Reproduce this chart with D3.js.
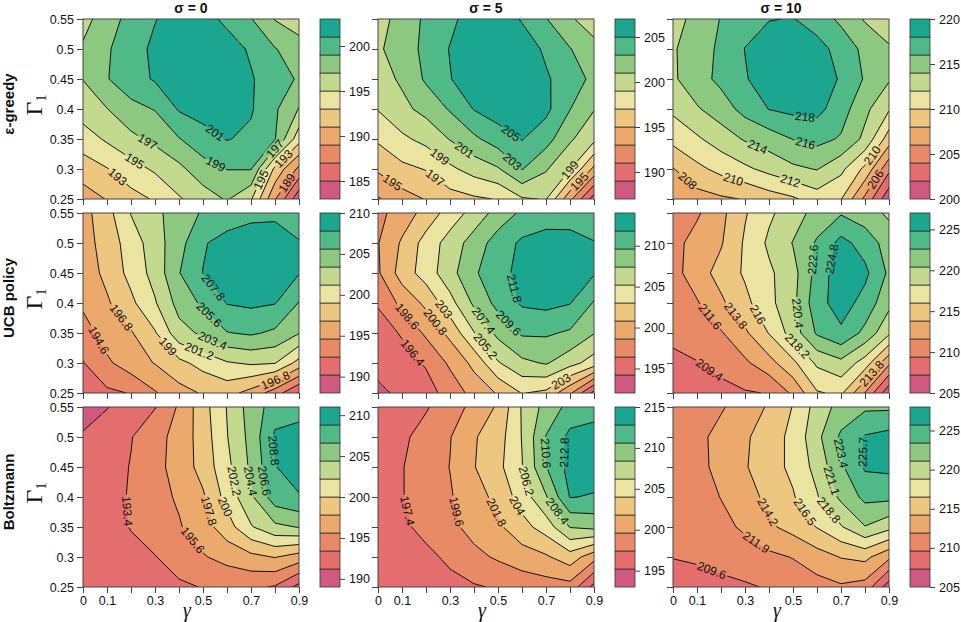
<!DOCTYPE html>
<html>
<head>
<meta charset="utf-8">
<script src="https://cdn.jsdelivr.net/npm/d3@7/dist/d3.min.js"></script>
<style>
  body { margin: 0; background: #fff; }
  text { font-family: "Liberation Sans", Arial, sans-serif; fill: #111; }
</style>
</head>
<body>
<svg width="961" height="622"></svg>
<script>
// grid of the runs: discount factor across, first learning rate down
var gammas = [0, 0.1, 0.2, 0.3, 0.4, 0.5, 0.6, 0.7, 0.8, 0.9];
var gammaLabels = [0, 0.1, 0.3, 0.5, 0.7, 0.9];
var gamma1s = [0.55, 0.5, 0.45, 0.4, 0.35, 0.3, 0.25];   // grid rows, top row first
var gamma1Ticks = [0.25, 0.3, 0.35, 0.4, 0.45, 0.5, 0.55];

var policies = ["ε-greedy", "UCB policy", "Boltzmann"];
var sigmas = ["σ = 0", "σ = 5", "σ = 10"];

// band colours, lowest band first
var palette = ["#d05a7f", "#e46d6e", "#e98a67", "#ebaa6b", "#edc77f",
               "#ebe3a0", "#c3da8e", "#8cc87f", "#4fba88", "#1ba78f"];

// contour levels of each panel
var levelsEps0 = [183, 185, 187, 189, 191, 193, 195, 197, 199, 201, 203];
var levelsEps5 = [187, 189, 191, 193, 195, 197, 199, 201, 203, 205, 207];
var levelsEps10 = [200, 202, 204, 206, 208, 210, 212, 214, 216, 218, 220];
var levelsUcb0 = [188, 190.2, 192.4, 194.6, 196.8, 199, 201.2, 203.4, 205.6, 207.8, 210];
var levelsUcb5 = [192, 194.2, 196.4, 198.6, 200.8, 203, 205.2, 207.4, 209.6, 211.8, 214];
var levelsUcb10 = [205, 207.2, 209.4, 211.6, 213.8, 216, 218.2, 220.4, 222.6, 224.8, 227];
var levelsBoltz0 = [189, 191.2, 193.4, 195.6, 197.8, 200, 202.2, 204.4, 206.6, 208.8, 211];
var levelsBoltz5 = [193, 195.2, 197.4, 199.6, 201.8, 204, 206.2, 208.4, 210.6, 212.8, 215];
var levelsBoltz10 = [205, 207.3, 209.6, 211.9, 214.2, 216.5, 218.8, 221.1, 223.4, 225.7, 228];

// colour key tick labels
var keyEps0 = [185, 190, 195, 200];
var keyEps5 = [190, 195, 200, 205];
var keyEps10 = [200, 205, 210, 215, 220];
var keyUcb0 = [190, 195, 200, 205, 210];
var keyUcb5 = [195, 200, 205, 210];
var keyUcb10 = [205, 210, 215, 220, 225];
var keyBoltz0 = [190, 195, 200, 205, 210];
var keyBoltz5 = [195, 200, 205, 210, 215];
var keyBoltz10 = [205, 210, 215, 220, 225];

// mean reward on the grid, rows Γ1 = 0.55 .. 0.25, columns γ = 0 .. 0.9
var epsS0 = [
  196.2, 198.2, 199.6, 200.9, 202.0, 201.8, 200.5, 199.1, 196.9, 195.8,
  197.3, 198.8, 200.0, 201.5, 202.5, 202.6, 202.0, 200.7, 199.1, 198.0,
  197.05, 198.9, 200.2, 201.2, 202.6, 202.8, 202.3, 201.2, 199.8, 198.8,
  196.0, 196.95, 198.4, 199.1, 201.2, 201.8, 201.9, 201.2, 199.3, 196.9,
  194.0, 195.3, 196.5, 197.5, 198.9, 200.2, 201.1, 200.6, 199.1, 193.8,
  192.0, 192.9, 194.2, 195.3, 196.5, 198.2, 199.05, 199.1, 192.5, 188.5,
  190.0, 191.1, 192.3, 193.2, 194.8, 196.0, 197.2, 195.2, 189.2, 183.5
];
var epsS5 = [
  200.0, 202.0, 203.3, 204.5, 206.0, 206.4, 204.8, 203.1, 201.2, 200.2,
  200.7, 202.0, 203.5, 205.1, 206.3, 206.8, 206.3, 204.6, 203.1, 201.5,
  200.2, 201.3, 203.3, 204.9, 206.3, 206.9, 206.5, 205.3, 203.8, 202.6,
  199.1, 200.5, 201.6, 203.2, 205.1, 206.0, 206.2, 205.5, 203.05, 201.1,
  197.3, 198.6, 199.6, 201.1, 202.6, 204.0, 205.1, 203.8, 201.3, 199.5,
  195.3, 196.5, 197.1, 198.6, 199.8, 200.8, 203.1, 201.2, 199.1, 194.5,
  192.8, 194.2, 195.1, 196.2, 196.7, 197.1, 198.8, 199.1, 193.5, 188.0
];
var epsS10 = [
  213.3, 214.6, 216.1, 217.2, 217.9, 218.1, 217.0, 215.6, 213.8, 213.0,
  213.8, 215.0, 216.4, 218.05, 219.2, 219.6, 218.8, 217.2, 215.5, 214.2,
  213.7, 215.2, 216.5, 217.8, 219.3, 219.8, 219.1, 217.8, 215.8, 214.2,
  212.4, 213.8, 215.0, 216.7, 218.05, 218.5, 218.6, 216.9, 214.5, 212.2,
  210.6, 211.7, 213.0, 214.2, 215.0, 216.05, 216.6, 215.8, 213.5, 209.0,
  207.9, 209.5, 210.6, 211.6, 212.6, 213.6, 214.1, 212.5, 209.5, 204.5,
  206.3, 207.2, 207.7, 208.1, 209.0, 209.7, 211.0, 210.1, 205.5, 200.5
];
var ucbS0 = [
  196.0, 198.2, 201.3, 202.8, 204.6, 205.8, 206.6, 207.2, 207.4, 207.0,
  195.8, 197.8, 200.0, 202.4, 204.8, 207.6, 208.6, 209.0, 208.8, 207.9,
  195.5, 197.4, 199.7, 202.0, 205.5, 207.85, 209.0, 209.4, 209.0, 207.9,
  195.0, 196.5, 198.5, 201.0, 204.2, 206.0, 207.9, 208.2, 207.9, 205.5,
  193.6, 195.6, 196.6, 198.8, 202.6, 203.8, 205.5, 205.9, 205.2, 203.5,
  192.3, 194.2, 195.8, 196.9, 198.4, 199.8, 201.0, 201.5, 201.3, 198.2,
  190.8, 192.0, 192.5, 194.4, 196.0, 197.0, 197.6, 196.0, 193.5, 190.0
];
var ucbS5 = [
  198.0, 199.6, 201.6, 204.0, 206.0, 208.3, 210.0, 210.6, 210.8, 210.5,
  198.5, 201.1, 203.9, 206.1, 208.4, 210.6, 212.2, 212.8, 212.6, 211.9,
  198.3, 201.8, 204.0, 206.6, 209.3, 211.0, 212.5, 213.2, 212.8, 212.0,
  196.6, 199.2, 201.3, 204.4, 207.8, 210.3, 212.1, 212.4, 211.9, 209.4,
  195.4, 196.6, 199.0, 201.4, 205.1, 208.0, 209.9, 209.9, 209.3, 207.5,
  194.8, 195.6, 196.6, 199.0, 201.4, 205.0, 206.9, 207.6, 206.0, 204.2,
  193.8, 194.6, 195.6, 197.2, 199.4, 201.0, 203.1, 202.5, 199.0, 193.5
];
var ucbS10 = [
  210.6, 211.3, 213.2, 215.8, 217.8, 219.4, 221.2, 222.4, 221.4, 220.0,
  210.9, 212.4, 213.6, 216.3, 218.6, 220.5, 222.9, 225.5, 223.9, 221.6,
  210.8, 212.8, 214.6, 216.3, 217.8, 219.6, 223.4, 226.2, 225.3, 222.2,
  210.4, 211.4, 213.4, 215.4, 217.6, 219.8, 224.0, 225.8, 224.0, 221.0,
  209.8, 210.6, 211.4, 213.4, 216.1, 219.2, 222.9, 224.4, 222.0, 218.6,
  209.0, 209.3, 210.0, 211.2, 213.0, 215.5, 218.6, 219.8, 217.2, 212.0,
  207.4, 208.2, 208.8, 209.2, 209.5, 212.0, 215.8, 216.4, 211.5, 205.5
];
var boltzS0 = [
  190.4, 191.1, 192.2, 193.3, 195.9, 199.1, 202.3, 205.4, 207.6, 207.8,
  191.4, 192.3, 193.3, 194.8, 196.4, 198.8, 202.1, 205.1, 209.2, 209.8,
  191.8, 192.5, 193.5, 194.9, 196.5, 198.6, 201.6, 204.8, 208.7, 210.0,
  191.9, 192.6, 193.6, 194.8, 195.9, 197.5, 200.8, 204.0, 207.8, 208.6,
  191.8, 192.5, 193.5, 194.6, 195.4, 196.8, 199.0, 202.0, 203.9, 204.5,
  191.6, 192.2, 192.8, 193.3, 194.5, 195.4, 196.4, 197.2, 197.9, 196.8,
  191.8, 192.0, 192.3, 192.7, 193.0, 193.5, 193.6, 193.8, 193.2, 190.5
];
var boltzS5 = [
  195.8, 196.4, 197.2, 198.6, 200.2, 202.1, 206.4, 209.2, 211.3, 212.0,
  196.0, 197.0, 198.2, 199.5, 201.6, 203.0, 206.3, 210.7, 213.4, 213.6,
  196.2, 197.3, 198.5, 199.65, 201.7, 203.4, 206.1, 210.5, 213.6, 214.0,
  196.2, 197.3, 198.4, 199.4, 200.9, 202.4, 205.0, 208.2, 212.9, 212.6,
  196.0, 197.0, 198.0, 199.0, 200.4, 201.4, 203.2, 205.0, 208.5, 209.0,
  195.6, 196.2, 196.9, 197.8, 199.0, 199.9, 200.8, 201.5, 203.0, 200.4,
  195.4, 195.8, 196.3, 196.8, 197.2, 197.6, 198.2, 198.6, 198.8, 194.5
];
var boltzS10 = [
  210.8, 211.2, 211.7, 212.8, 214.5, 216.6, 219.7, 222.0, 223.0, 223.0,
  210.9, 211.4, 212.5, 213.8, 215.6, 217.0, 220.5, 223.8, 225.9, 226.5,
  210.9, 211.4, 212.4, 214.0, 215.6, 217.0, 219.6, 223.0, 226.0, 226.2,
  210.6, 211.1, 211.95, 213.4, 214.7, 216.3, 218.6, 221.6, 224.0, 224.0,
  210.2, 210.8, 211.4, 212.2, 213.8, 215.0, 216.6, 218.6, 221.0, 219.5,
  209.7, 210.0, 210.5, 211.0, 211.4, 212.0, 213.2, 214.3, 214.8, 212.4,
  208.0, 208.4, 208.9, 209.3, 209.8, 210.4, 211.0, 211.6, 211.0, 206.0
];

var panels = [
  {policy: 0, sigma: 0, grid: epsS0, levels: levelsEps0, keyTicks: keyEps0},
  {policy: 0, sigma: 1, grid: epsS5, levels: levelsEps5, keyTicks: keyEps5},
  {policy: 0, sigma: 2, grid: epsS10, levels: levelsEps10, keyTicks: keyEps10},
  {policy: 1, sigma: 0, grid: ucbS0, levels: levelsUcb0, keyTicks: keyUcb0},
  {policy: 1, sigma: 1, grid: ucbS5, levels: levelsUcb5, keyTicks: keyUcb5},
  {policy: 1, sigma: 2, grid: ucbS10, levels: levelsUcb10, keyTicks: keyUcb10},
  {policy: 2, sigma: 0, grid: boltzS0, levels: levelsBoltz0, keyTicks: keyBoltz0},
  {policy: 2, sigma: 1, grid: boltzS5, levels: levelsBoltz5, keyTicks: keyBoltz5},
  {policy: 2, sigma: 2, grid: boltzS10, levels: levelsBoltz10, keyTicks: keyBoltz10}
];

var svg = d3.select("svg");
var colLeft = [83, 378, 673], rowTop = [19, 213, 407];
var plotW = 216, plotH = 180, keyGap = 237, keyW = 20;
var fontSize = 12.5, labelSize = 12;
var fmt = function (d) { return String(+d.toFixed(2)); };

var measure = svg.append("text").attr("font-size", labelSize).attr("visibility", "hidden");
function textWidth(t) { measure.text(t); return measure.node().getComputedTextLength(); }

// corners of a rotated label box
function corners(l) {
  var c = Math.cos(l.a), s = Math.sin(l.a), hw = l.w / 2, hh = l.h / 2;
  return [[-hw, -hh], [hw, -hh], [hw, hh], [-hw, hh]].map(function (q) {
    return [l.x + q[0] * c - q[1] * s, l.y + q[0] * s + q[1] * c];
  });
}
function overlaps(a, b) {
  var ca = corners({x: a.x, y: a.y, a: a.a, w: a.w + 4, h: a.h + 2}), cb = corners(b);
  return [a.a, a.a + Math.PI / 2, b.a, b.a + Math.PI / 2].every(function (t) {
    var ux = Math.cos(t), uy = Math.sin(t);
    var pa = ca.map(function (p) { return p[0] * ux + p[1] * uy; });
    var pb = cb.map(function (p) { return p[0] * ux + p[1] * uy; });
    return d3.max(pa) > d3.min(pb) && d3.max(pb) > d3.min(pa);
  });
}
// does segment p-q cross the label box (Liang-Barsky in the label frame)
function hitsBox(l, p, q) {
  var c = Math.cos(-l.a), s = Math.sin(-l.a);
  function loc(pt) { var dx = pt[0] - l.x, dy = pt[1] - l.y; return [dx * c - dy * s, dx * s + dy * c]; }
  var a = loc(p), b = loc(q), hw = l.w / 2, hh = (l.h - 2) / 2;
  var dx = b[0] - a[0], dy = b[1] - a[1], t0 = 0, t1 = 1;
  var P = [-dx, dx, -dy, dy], Q = [a[0] + hw, hw - a[0], a[1] + hh, hh - a[1]];
  for (var k = 0; k < 4; k++) {
    if (P[k] === 0) { if (Q[k] < 0) return false; }
    else {
      var r = Q[k] / P[k];
      if (P[k] < 0) { if (r > t1) return false; if (r > t0) t0 = r; }
      else { if (r < t0) return false; if (r < t1) t1 = r; }
    }
  }
  return true;
}
function along(run, cum, s) {
  var k = d3.bisectLeft(cum, s);
  if (k <= 0) return run[0];
  if (k >= cum.length) return run[run.length - 1];
  var t = (s - cum[k - 1]) / ((cum[k] - cum[k - 1]) || 1);
  return [run[k - 1][0] + t * (run[k][0] - run[k - 1][0]), run[k - 1][1] + t * (run[k][1] - run[k - 1][1])];
}
// split a projected ring into the pieces lying inside the plot
function runsOf(ring) {
  var inside = ring.map(function (p) {
    return p[0] > -0.5 && p[0] < plotW + 0.5 && p[1] > -0.5 && p[1] < plotH + 0.5;
  });
  var start = inside.indexOf(false);
  if (start < 0) return [ring];
  var runs = [], cur = [];
  for (var k = 0; k < ring.length; k++) {
    var idx = (start + k) % ring.length;
    if (inside[idx]) cur.push(ring[idx]);
    else { if (cur.length > 1) runs.push(cur); cur = []; }
  }
  if (cur.length > 1) runs.push(cur);
  return runs;
}
// flattest free spot on a line piece
function fitLabel(run, w, h, placed, others) {
  var cum = [0];
  for (var k = 1; k < run.length; k++) {
    cum.push(cum[k - 1] + Math.hypot(run[k][0] - run[k - 1][0], run[k][1] - run[k - 1][1]));
  }
  var total = cum[cum.length - 1];
  if (total < w * 1.5) return null;
  var best = null;
  for (var s = w / 2; s <= total - w / 2; s += 2) {
    var a = along(run, cum, s - w / 2), b = along(run, cum, s + w / 2), m = along(run, cum, s);
    var ang = Math.atan2(b[1] - a[1], b[0] - a[0]);
    if (ang > Math.PI / 2) ang -= Math.PI;
    if (ang < -Math.PI / 2) ang += Math.PI;
    var len = Math.hypot(b[0] - a[0], b[1] - a[1]) || 1, dev = 0;
    for (k = 0; k < run.length; k++) {
      if (cum[k] > s - w / 2 && cum[k] < s + w / 2) {
        dev = Math.max(dev, Math.abs((b[0] - a[0]) * (a[1] - run[k][1]) - (a[0] - run[k][0]) * (b[1] - a[1])) / len);
      }
    }
    var lab = {x: m[0], y: m[1], a: ang, w: w, h: h};
    if (corners(lab).some(function (p) { return p[0] < 1 || p[0] > plotW - 1 || p[1] < 1 || p[1] > plotH - 1; })) continue;
    if (placed.some(function (q) { return overlaps(lab, q); })) continue;
    if (others.some(function (sg) { return hitsBox(lab, sg[0], sg[1]); })) continue;
    lab.score = dev + 0.03 * Math.abs(s - total / 2);
    if (!best || lab.score < best.score) best = lab;
  }
  return best;
}

panels.forEach(function (p, i) {
  var x0 = colLeft[p.sigma], y0 = rowTop[p.policy];
  var g = svg.append("g").attr("transform", "translate(" + x0 + "," + y0 + ")");

  var x = d3.scaleLinear().domain([0, 0.9]).range([0, plotW]);
  var y = d3.scaleLinear().domain([0.25, 0.55]).range([plotH, 0]);
  var colGamma = d3.scaleLinear().domain(d3.range(gammas.length)).range(gammas);
  var rowGamma1 = d3.scaleLinear().domain(d3.range(gamma1s.length)).range(gamma1s);
  function toPx(pt) { return [x(colGamma(pt[0] - 0.5)), y(rowGamma1(pt[1] - 0.5))]; }
  var path = d3.geoPath(d3.geoTransform({
    point: function (a, b) { var q = toPx([a, b]); this.stream.point(q[0], q[1]); }
  }));

  var bands = d3.contours()
    .size([gammas.length, gamma1s.length])
    .thresholds(p.levels.slice(0, -1))(p.grid);

  var defs = g.append("defs");
  defs.append("clipPath").attr("id", "clip" + i)
    .append("rect").attr("width", plotW).attr("height", plotH);
  var mask = defs.append("mask").attr("id", "mask" + i).attr("maskUnits", "userSpaceOnUse")
    .attr("x", -20).attr("y", -20).attr("width", plotW + 40).attr("height", plotH + 40);
  mask.append("rect").attr("x", -20).attr("y", -20).attr("width", plotW + 40).attr("height", plotH + 40).attr("fill", "#fff");

  var plot = g.append("g").attr("clip-path", "url(#clip" + i + ")");
  plot.selectAll("path.band").data(bands).enter().append("path")
    .attr("class", "band")
    .attr("d", function (d) { return path(d); })
    .attr("fill", function (d, k) { return palette[k]; });

  plot.append("g").attr("mask", "url(#mask" + i + ")")
    .selectAll("path").data(bands.slice(1)).enter().append("path")
    .attr("d", function (d) { return path(d); })
    .attr("fill", "none").attr("stroke", "#111").attr("stroke-width", 1);

  // line pieces inside the plot, per level
  var pieces = bands.slice(1).map(function (c) {
    var runs = [];
    c.coordinates.forEach(function (poly) {
      poly.forEach(function (ring) { runs = runs.concat(runsOf(ring.map(toPx))); });
    });
    return {value: c.value, runs: runs};
  });
  function segmentsExcept(v) {
    var segs = [];
    pieces.forEach(function (pc) {
      if (pc.value === v) return;
      pc.runs.forEach(function (run) {
        for (var k = 1; k < run.length; k++) segs.push([run[k - 1], run[k]]);
      });
    });
    return segs;
  }

  // contour labels
  var placed = [];
  pieces.forEach(function (pc) {
    var txt = fmt(pc.value), w = textWidth(txt) + 3, h = 11;
    var others = segmentsExcept(pc.value);
    pc.runs.forEach(function (run) {
      var lab = fitLabel(run, w, h, placed, others);
      if (lab) { lab.text = txt; placed.push(lab); }
    });
  });
  placed.forEach(function (l) {
    var deg = l.a * 180 / Math.PI;
    mask.append("rect")
      .attr("x", -l.w / 2).attr("y", -l.h / 2).attr("width", l.w).attr("height", l.h)
      .attr("transform", "translate(" + l.x + "," + l.y + ") rotate(" + deg + ")")
      .attr("fill", "#000");
    g.append("text")
      .attr("transform", "translate(" + l.x + "," + l.y + ") rotate(" + deg + ")")
      .attr("text-anchor", "middle").attr("dy", "0.36em")
      .attr("font-size", labelSize).text(l.text);
  });

  g.append("rect").attr("width", plotW).attr("height", plotH)
    .attr("fill", "none").attr("stroke", "#444").attr("stroke-width", 1);

  // axes
  var yAxis = g.append("g")
    .call(d3.axisLeft(y).tickValues(gamma1Ticks).tickSize(6).tickPadding(3)
      .tickFormat(function (d) { return p.sigma === 0 ? fmt(d) : ""; }));
  var xAxis = g.append("g").attr("transform", "translate(0," + plotH + ")")
    .call(d3.axisBottom(x).tickValues(gammas).tickSize(6).tickPadding(3)
      .tickFormat(function (d) { return p.policy === 2 && gammaLabels.indexOf(d) >= 0 ? fmt(d) : ""; }));
  [yAxis, xAxis].forEach(function (ax) {
    ax.select(".domain").remove();
    ax.attr("font-size", fontSize).attr("font-family", null);
    ax.selectAll("line").attr("stroke", "#444");
  });

  // colour key
  var key = g.append("g").attr("transform", "translate(" + keyGap + ",0)");
  var ky = d3.scaleLinear().domain([p.levels[0], p.levels[p.levels.length - 1]]).range([plotH, 0]);
  key.selectAll("rect").data(palette).enter().append("rect")
    .attr("x", 0).attr("width", keyW)
    .attr("y", function (d, k) { return ky(p.levels[k + 1]); })
    .attr("height", function (d, k) { return ky(p.levels[k]) - ky(p.levels[k + 1]); })
    .attr("fill", function (d) { return d; })
    .attr("stroke", "#333").attr("stroke-width", 0.8);
  var keyAxis = key.append("g").attr("transform", "translate(" + keyW + ",0)")
    .call(d3.axisRight(ky).tickValues(p.keyTicks).tickSize(5).tickPadding(4).tickFormat(fmt));
  keyAxis.select(".domain").remove();
  keyAxis.attr("font-size", fontSize).attr("font-family", null);
  keyAxis.selectAll("line").attr("stroke", "#444");
});

// titles and axis names
sigmas.forEach(function (s, j) {
  svg.append("text").attr("x", colLeft[j] + plotW / 2).attr("y", 13)
    .attr("text-anchor", "middle").attr("font-weight", "bold").attr("font-size", 14).text(s);
  svg.append("text").attr("x", colLeft[j] + plotW / 2 - 4).attr("y", 617)
    .attr("text-anchor", "middle").style("font-family", "'Liberation Serif', serif")
    .style("font-style", "italic").attr("font-size", 20).text("γ");
});
policies.forEach(function (name, r) {
  var cy = rowTop[r] + plotH / 2;
  svg.append("text").attr("transform", "translate(14," + (cy - 5) + ") rotate(-90)")
    .attr("text-anchor", "middle").attr("font-weight", "bold").attr("font-size", 15).text(name);
  var t = svg.append("text").attr("transform", "translate(42," + (cy - 4) + ") rotate(-90)")
    .attr("text-anchor", "middle").style("font-family", "'Liberation Serif', serif").attr("font-size", 24);
  t.append("tspan").text("Γ");
  t.append("tspan").attr("font-size", 14).attr("dy", 4).text("1");
});
</script>
</body>
</html>
